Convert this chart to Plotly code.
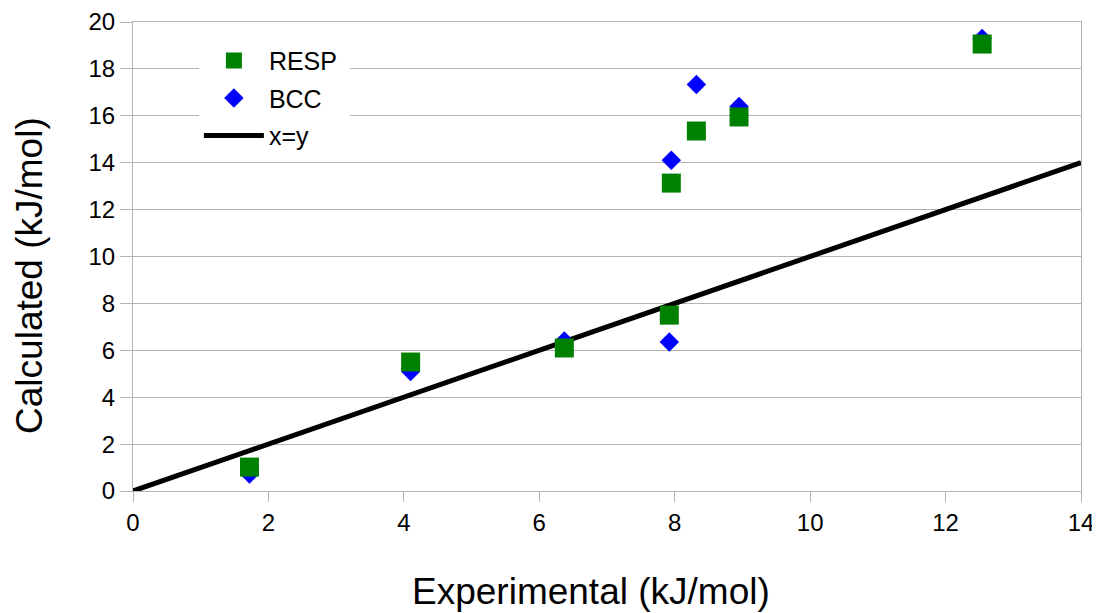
import plotly.graph_objects as go

# experimental vs calculated values (kJ/mol)
resp_x = [1.72, 4.10, 6.37, 7.92, 7.95, 8.32, 8.95, 12.54]
resp_y = [1.02, 5.50, 6.10, 7.50, 13.13, 15.35, 15.95, 19.06]

bcc_x = [1.72, 4.10, 6.37, 7.92, 7.95, 8.32, 8.95, 12.54]
bcc_y = [0.72, 5.10, 6.40, 6.35, 14.10, 17.33, 16.40, 19.30]

line_x = [0, 14]
line_y = [0, 14]

FONT = 'Liberation Sans, Arial, sans-serif'

resp = go.Scatter(
    x=resp_x, y=resp_y,
    mode='markers',
    name='RESP\u00a0',
    legendgroup='a',
    legendrank=1,
    marker=dict(symbol='square', size=19, color='#008000'),
)

bcc = go.Scatter(
    x=bcc_x, y=bcc_y,
    mode='markers',
    name='BCC',
    legendgroup='b',
    legendrank=2,
    marker=dict(symbol='diamond', size=15, color='#0000ff'),
)

xy = go.Scatter(
    x=line_x, y=line_y,
    mode='lines',
    name='x=y',
    legendgroup='c',
    legendrank=3,
    line=dict(color='black', width=5),
)

# the page body adds 8px around the figure, so the figure is 8px smaller
layout = go.Layout(
    width=1092,
    height=605,
    paper_bgcolor='white',
    plot_bgcolor='white',
    margin=dict(l=125, r=19, t=14, b=122, autoexpand=False),
    font=dict(family=FONT, color='black'),
    xaxis=dict(
        range=[0, 14],
        dtick=2,
        showgrid=False,
        showline=True,
        linecolor='#b3b3b3',
        mirror=True,
        ticks='outside',
        ticklen=10,
        tickcolor='#b3b3b3',
        tickfont=dict(size=24),
        automargin=False,
        zeroline=False,
    ),
    yaxis=dict(
        range=[0, 20],
        dtick=2,
        showgrid=True,
        gridcolor='#b3b3b3',
        showline=True,
        linecolor='#b3b3b3',
        mirror=True,
        ticks='outside',
        ticklen=12,
        tickcolor='#b3b3b3',
        tickfont=dict(size=24),
        automargin=False,
        zeroline=False,
    ),
    legend=dict(
        x=0.0695, y=0.9665,
        xanchor='left', yanchor='top',
        bgcolor='white',
        font=dict(size=25),
        traceorder='grouped',
        tracegroupgap=2,
        itemwidth=60,
    ),
    annotations=[
        dict(text='Experimental (kJ/mol)', xref='paper', yref='paper',
             x=0.483, y=-0.215, xanchor='center', yanchor='middle',
             showarrow=False, font=dict(size=37)),
        dict(text='Calculated (kJ/mol)', xref='paper', yref='paper',
             x=-0.1087, y=0.4606, xanchor='center', yanchor='middle',
             textangle=-90, showarrow=False, font=dict(size=37)),
    ],
)

fig = go.Figure(data=[xy, bcc, resp], layout=layout)
fig.write_html("out.html")
